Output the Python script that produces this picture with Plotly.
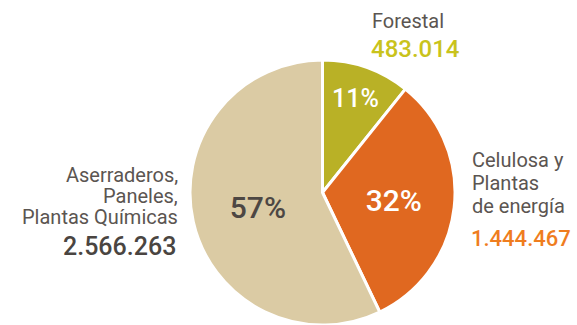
import plotly.graph_objects as go

# Volumes by destination industry
categories = ["Forestal", "Celulosa y Plantas de energía", "Aserraderos, Paneles, Plantas Químicas"]
values = [483014, 1444467, 2566263]
value_labels = ["483.014", "1.444.467", "2.566.263"]

slice_colors = ["#b9b126", "#e06820", "#dbcba4"]
pct_colors = ["#ffffff", "#ffffff", "#4d4743"]
pct_sizes = [25, 30, 30]
label_grey = "#5b5551"

W, H = 577, 325

fig = go.Figure(
    go.Pie(
        labels=categories,
        values=values,
        sort=False,
        direction="clockwise",
        rotation=0,
        marker=dict(colors=slice_colors, line=dict(color="white", width=3)),
        texttemplate="%{percent:.0%}",
        textposition="inside",
        insidetextorientation="horizontal",
        insidetextfont=dict(color=pct_colors, size=pct_sizes, family="Roboto", weight=500),
        showlegend=False,
        hoverinfo="label+value+percent",
        domain=dict(x=[188 / W, 457 / W], y=[0, 1 - 60 / H]),
    )
)

def px_x(x):
    return x / W

def px_y(y):
    return 1 - y / H

ann = []
def add(text, x, y, size, color, xanchor, weight=400):
    ann.append(dict(text=text, x=px_x(x), y=px_y(y), xref="paper", yref="paper",
                    xanchor=xanchor, yanchor="middle", showarrow=False, borderpad=0,
                    font=dict(family="Roboto", size=size, color=color, weight=weight)))

# Forestal
add("Forestal", 371, 21, 20, label_grey, "left")
add(value_labels[0], 370, 49, 24, "#c9c31c", "left", 500)

# Celulosa y Plantas de energía
for i, line in enumerate(["Celulosa y", "Plantas", "de energía"]):
    add(line, 471, 160 + 23 * i, 20, label_grey, "left")
add(value_labels[1], 470, 238, 22, "#ef7d1e", "left", 500)

# Aserraderos, Paneles, Plantas Químicas
for i, line in enumerate(["Aserraderos,", "Paneles,", "Plantas Químicas"]):
    add(line, 179, 175 + 21 * i, 20, label_grey, "right")
add(value_labels[2], 177, 246, 25, "#4a4541", "right", 500)

fig.update_layout(
    width=W, height=H,
    margin=dict(l=0, r=0, t=0, b=0),
    paper_bgcolor="white",
    plot_bgcolor="white",
    annotations=ann,
)

fig.write_html("out.html")
